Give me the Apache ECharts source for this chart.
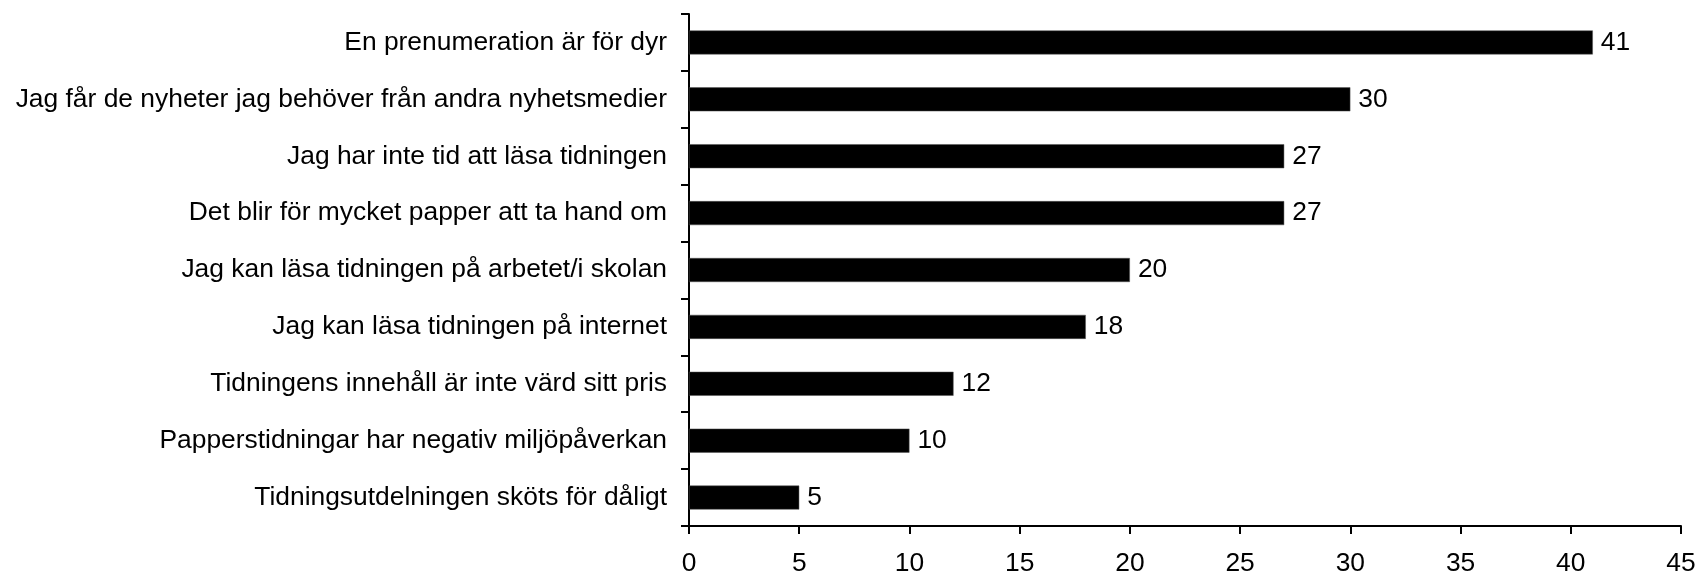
<!DOCTYPE html>
<html>
<head>
<meta charset="utf-8">
<script src="https://cdn.jsdelivr.net/npm/echarts@6/dist/echarts.min.js"></script>
<style>
html,body{margin:0;padding:0;background:#fff;}
#chart{width:1700px;height:577px;}
</style>
</head>
<body>
<div id="chart"></div>
<script>
var categories = [
  "En prenumeration är för dyr",
  "Jag får de nyheter jag behöver från andra nyhetsmedier",
  "Jag har inte tid att läsa tidningen",
  "Det blir för mycket papper att ta hand om",
  "Jag kan läsa tidningen på arbetet/i skolan",
  "Jag kan läsa tidningen på internet",
  "Tidningens innehåll är inte värd sitt pris",
  "Papperstidningar har negativ miljöpåverkan",
  "Tidningsutdelningen sköts för dåligt"
];
var values = [41, 30, 27, 27, 20, 18, 12, 10, 5];
var xMin = 0, xMax = 45, xStep = 5;

var chart = echarts.init(document.getElementById('chart'), null, {renderer: 'canvas'});
var font = "Liberation Sans, Arial, sans-serif";
var fs = 26.4;
chart.setOption({
  animation: false,
  backgroundColor: '#ffffff',
  grid: {left: 689, right: 19, top: 14, bottom: 50, containLabel: false},
  xAxis: {
    type: 'value', min: xMin, max: xMax, interval: xStep,
    splitLine: {show: false},
    axisLine: {show: true, lineStyle: {color: '#000', width: 2}},
    axisTick: {show: true, length: 8, lineStyle: {color: '#000', width: 2}},
    axisLabel: {color: '#000', fontSize: fs, fontFamily: font, margin: 25}
  },
  yAxis: {
    type: 'category', data: categories, inverse: true,
    axisLine: {show: true, lineStyle: {color: '#000', width: 2}},
    axisTick: {show: true, length: 8, lineStyle: {color: '#000', width: 2}},
    axisLabel: {color: '#000', fontSize: fs, fontFamily: font, margin: 22}
  },
  series: [{
    type: 'bar', data: values, barWidth: 24,
    itemStyle: {color: '#000', borderColor: '#555', borderWidth: 0.5},
    label: {show: true, position: 'right', distance: 8, color: '#000', fontSize: fs, fontFamily: font}
  }]
});
</script>
</body>
</html>
